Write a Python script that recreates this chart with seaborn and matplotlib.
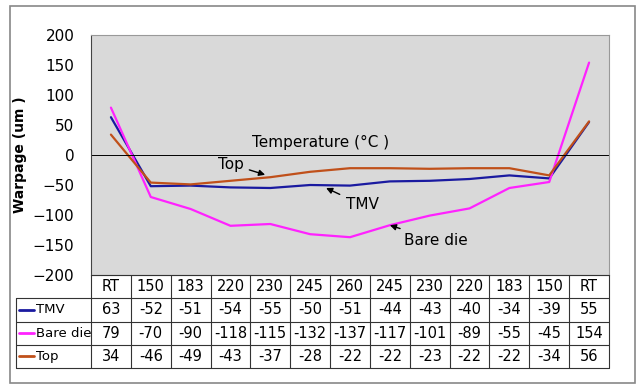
import matplotlib
matplotlib.use('Agg')
import matplotlib.pyplot as plt
from matplotlib.patches import Rectangle
from matplotlib.lines import Line2D
import pandas as pd
import seaborn as sns

temps = ['RT', '150', '183', '220', '230', '245', '260', '245', '230', '220', '183', '150', 'RT']
series_names = ['TMV', 'Bare die', 'Top']
tmv = [63, -52, -51, -54, -55, -50, -51, -44, -43, -40, -34, -39, 55]
bare_die = [79, -70, -90, -118, -115, -132, -137, -117, -101, -89, -55, -45, 154]
top = [34, -46, -49, -43, -37, -28, -22, -22, -23, -22, -22, -34, 56]
colors = ['#1a1aa0', '#ff22ff', '#c0501a']

W, H = 639, 387


def fx(px):
    return px / W


def fy(py):
    return 1 - py / H


def main():
    sns.set_style('white')
    plt.rcParams['font.family'] = ['DejaVu Sans']
    plt.rcParams['text.color'] = 'black'
    plt.rcParams['ytick.color'] = 'black'
    plt.rcParams['axes.labelcolor'] = 'black'

    fig = plt.figure(figsize=(W / 100, H / 100), dpi=100)
    fig.add_artist(Rectangle((fx(10), fy(383)), fx(625), (383 - 6) / H,
                             transform=fig.transFigure, fill=False,
                             edgecolor='#888888', lw=1.2))

    ax = fig.add_axes([fx(91), fy(275), fx(518), 240 / H])
    ax.set_facecolor('#d9d9d9')

    rows = []
    for name, vals in zip(series_names, [tmv, bare_die, top]):
        for i, v in enumerate(vals):
            rows.append({'pos': i, 'value': v, 'series': name})
    df = pd.DataFrame(rows)
    sns.lineplot(data=df, x='pos', y='value', hue='series', palette=colors,
                 hue_order=series_names, lw=1.6, legend=False, ax=ax)

    ax.axhline(0, color='black', lw=0.7)
    ax.set_xlim(-0.5, len(temps) - 0.5)
    ax.set_ylim(-200, 200)
    ax.set_yticks(range(-200, 201, 50))
    ax.tick_params(axis='y', labelsize=11, length=0, pad=12)
    ax.set_xticks([])
    ax.set_xlabel('')
    ax.set_ylabel('Warpage (um )', fontsize=10, fontweight='bold', labelpad=4)
    for s in ax.spines.values():
        s.set_color('#999999')
        s.set_linewidth(0.8)
    ax.spines['left'].set_color('#444444')

    arrow = dict(arrowstyle='-|>', color='black', lw=1, mutation_scale=9,
                 shrinkA=2, shrinkB=0)
    ax.text(5.25, 8, 'Temperature (°C )', fontsize=11, ha='center', va='bottom')
    ax.annotate('Top', xy=(3.87, -33), xytext=(3.0, -15), fontsize=11,
                ha='center', va='center', arrowprops=arrow)
    ax.annotate('TMV', xy=(5.4, -55), xytext=(6.3, -83), fontsize=11,
                ha='center', va='center', arrowprops=arrow)
    ax.annotate('Bare die', xy=(7.0, -117), xytext=(8.15, -142), fontsize=11,
                ha='center', va='center', arrowprops=arrow)

    # data table below the plot
    tax = fig.add_axes([fx(91), fy(368), fx(518), 93 / H])
    tax.set_xlim(-0.5, len(temps) - 0.5)
    tax.set_ylim(4, 0)
    tax.axis('off')
    lab_w = (91 - 16) / (518 / len(temps))
    left = -0.5 - lab_w
    right = len(temps) - 0.5
    lc = '#333333'
    for r in range(1, 5):
        tax.add_line(Line2D([left, right], [r, r], color=lc, lw=0.8, clip_on=False))
    tax.add_line(Line2D([-0.5, right], [0, 0], color=lc, lw=0.8, clip_on=False))
    tax.add_line(Line2D([left, left], [1, 4], color=lc, lw=0.8, clip_on=False))
    for c in range(len(temps) + 1):
        tax.add_line(Line2D([c - 0.5, c - 0.5], [0, 4], color=lc, lw=0.8, clip_on=False))
    for i, t in enumerate(temps):
        tax.text(i, 0.5, t, ha='center', va='center', fontsize=10.5)
    table_vals = [tmv, bare_die, top]
    for r in range(1, 4):
        name = series_names[r - 1]
        vals = table_vals[r - 1]
        col = colors[r - 1]
        tax.add_line(Line2D([left + 0.08, left + 0.45], [r + 0.5, r + 0.5], color=col,
                            lw=2, clip_on=False))
        tax.text(left + 0.5, r + 0.5, name, ha='left', va='center', fontsize=9.5,
                 clip_on=False)
        for i, v in enumerate(vals):
            tax.text(i, r + 0.5, str(v), ha='center', va='center', fontsize=10.5)

    fig.savefig('out.png', dpi=100, facecolor='white')
    plt.close(fig)


if __name__ == '__main__':
    main()
